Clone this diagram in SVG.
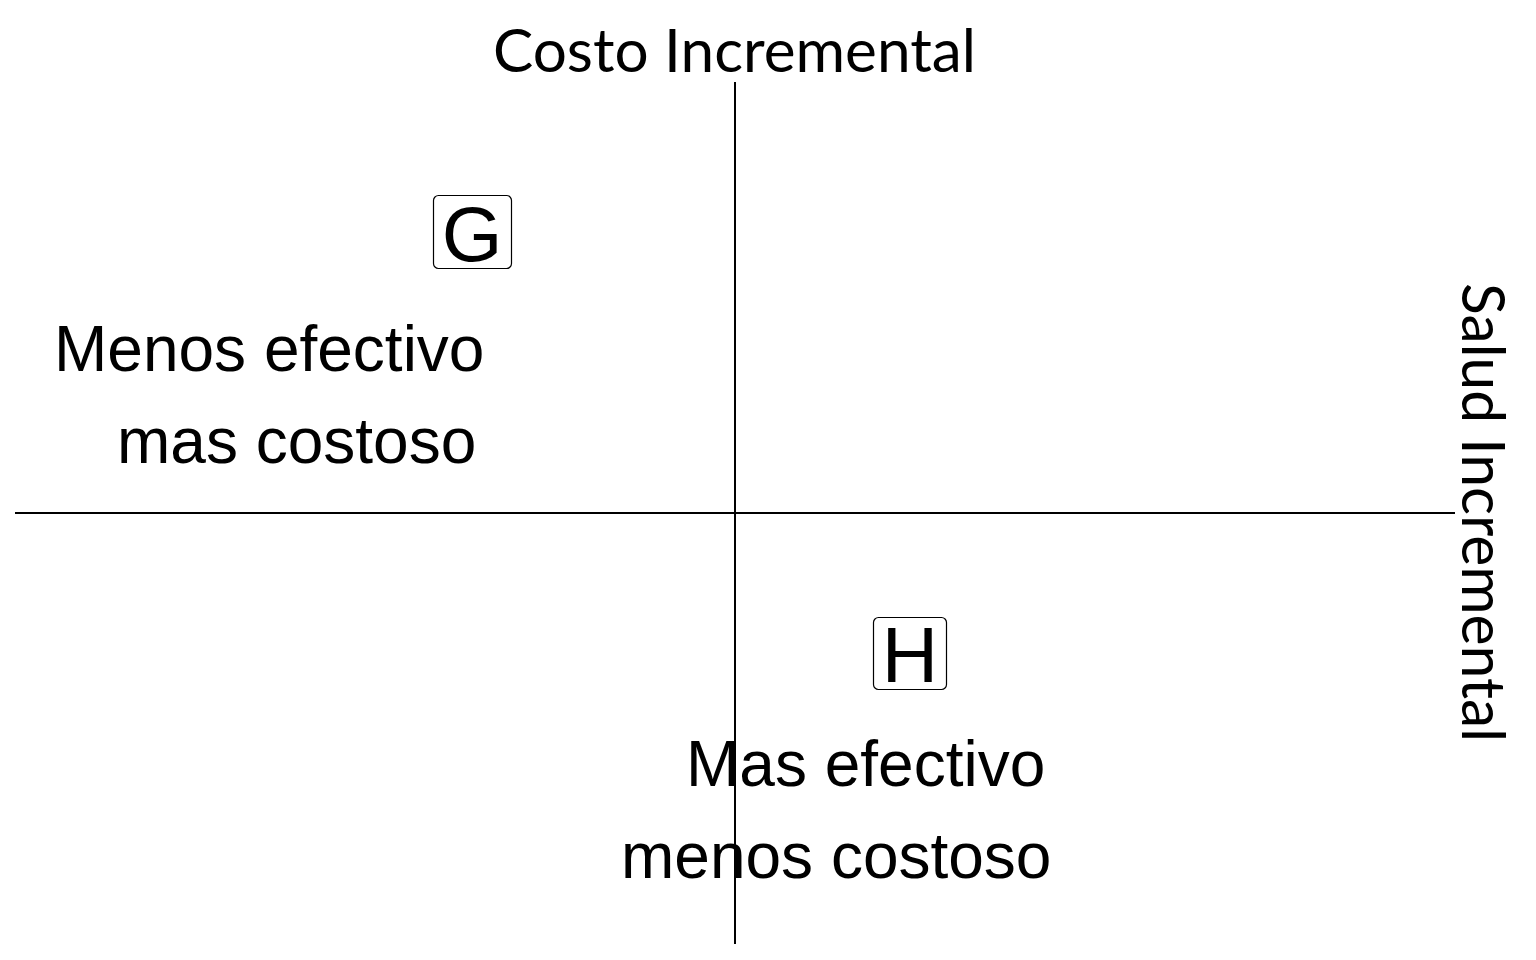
<svg xmlns="http://www.w3.org/2000/svg" width="1536" height="960" viewBox="0 0 1536 960">
  <style>
    .axis-title { font-family: Lato, "Gill Sans", "Open Sans", sans-serif; font-size: 60px; fill: #000; }
    .quad { font-family: "Liberation Sans", Arial, sans-serif; font-size: 64px; fill: #000; }
    .letter { font-family: "Liberation Sans", Arial, sans-serif; font-size: 78px; fill: #000; text-anchor: middle; }
    .box { fill: #fff; stroke: #000; stroke-width: 1.2; }
    .axis { stroke: #000; stroke-width: 2; fill: none; }
  </style>
  <rect width="1536" height="960" fill="#fff"/>
  <g id="connectors">
    <line class="axis" x1="735" y1="82" x2="735" y2="944"/>
    <line class="axis" x1="15" y1="513" x2="1455" y2="513"/>
  </g>
  <g id="title-cost">
    <text class="axis-title" x="493" y="72" textLength="483" lengthAdjust="spacingAndGlyphs">Costo Incremental</text>
  </g>
  <g id="title-health">
    <text class="axis-title" transform="translate(1462,283) rotate(90)" x="0" y="0" textLength="459" lengthAdjust="spacingAndGlyphs">Salud Incremental</text>
  </g>
  <g id="node-G">
    <rect class="box" x="433.5" y="195.5" width="78" height="73" rx="5"/>
    <text class="letter" x="472" y="261">G</text>
  </g>
  <g id="node-H">
    <rect class="box" x="873.5" y="617.5" width="73" height="72" rx="5"/>
    <text class="letter" x="910" y="682">H</text>
  </g>
  <g id="label-upper-left">
    <text class="quad" x="54" y="371">Menos efectivo</text>
    <text class="quad" x="117" y="463">mas costoso</text>
  </g>
  <g id="label-lower-right">
    <text class="quad" x="686" y="786">Mas efectivo</text>
    <text class="quad" x="621" y="878">menos costoso</text>
  </g>
</svg>
